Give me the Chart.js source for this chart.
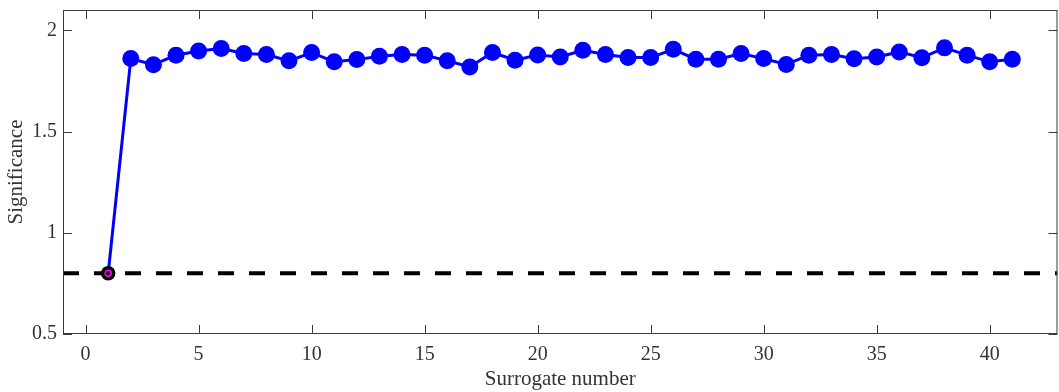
<!DOCTYPE html>
<html>
<head>
<meta charset="utf-8">
<script src="https://cdn.jsdelivr.net/npm/chart.js@4"></script>
<style>
  html, body { margin: 0; padding: 0; background: #fff; }
  #wrap { width: 1059px; height: 392px; overflow: hidden; position: relative; }
  canvas { display: block; }
</style>
</head>
<body>
<div id="wrap"><canvas id="c" width="1066" height="392"></canvas></div>
<script>
// ---- data ----
const surrogateNumbers = [1,2,3,4,5,6,7,8,9,10,11,12,13,14,15,16,17,18,19,20,21,22,23,24,25,26,27,28,29,30,31,32,33,34,35,36,37,38,39,40,41];
const significance = [0.80,1.86,1.83,1.877,1.898,1.91,1.885,1.88,1.849,1.89,1.844,1.855,1.872,1.880,1.877,1.849,1.819,1.890,1.852,1.878,1.868,1.901,1.880,1.865,1.865,1.906,1.857,1.857,1.885,1.860,1.831,1.877,1.880,1.859,1.868,1.893,1.864,1.913,1.877,1.844,1.857];
const thresholdValue = 0.8;
const xTickValues = [0,5,10,15,20,25,30,35,40];
const yTickValues = [0.5,1,1.5,2];
const xLimits = [-1, 43];
const yLimits = [0.5, 2.1];
const xTitle = 'Surrogate number';
const yTitle = 'Significance';

const seriesPoints = surrogateNumbers.map((x, i) => ({x: x, y: significance[i]}));
const originalPoint = [{x: surrogateNumbers[0], y: significance[0]}];
const thresholdLine = [{x: xLimits[0], y: thresholdValue}, {x: xLimits[1], y: thresholdValue}];

Chart.defaults.font.family = '"Liberation Serif", "Times New Roman", serif';
const AXIS_COLOR = '#3a3a3a';
const TEXT_COLOR = '#333333';

const frame = {
  id: 'frame',
  afterDraw(chart) {
    const {ctx, chartArea: a, scales} = chart;
    ctx.save();
    ctx.strokeStyle = AXIS_COLOR;
    ctx.lineWidth = 1;
    ctx.strokeRect(a.left + 0.5, a.top + 0.5, a.right - a.left - 1, a.bottom - a.top - 1);
    const L = 9;
    ctx.beginPath();
    scales.x.ticks.forEach(t => {
      const px = Math.round(scales.x.getPixelForValue(t.value)) + 0.5;
      ctx.moveTo(px, a.bottom); ctx.lineTo(px, a.bottom - L);
      ctx.moveTo(px, a.top); ctx.lineTo(px, a.top + L);
    });
    scales.y.ticks.forEach(t => {
      const py = Math.round(scales.y.getPixelForValue(t.value)) + 0.5;
      ctx.moveTo(a.left, py); ctx.lineTo(a.left + L, py);
      ctx.moveTo(a.right, py); ctx.lineTo(a.right - L, py);
    });
    ctx.stroke();
    ctx.restore();
  }
};

new Chart(document.getElementById('c'), {
  type: 'scatter',
  data: {
    datasets: [
      { // original data (magenta inner ring)
        data: originalPoint, showLine: false,
        pointRadius: 3, pointBorderWidth: 1.6,
        pointBorderColor: '#ff00ff', pointBackgroundColor: '#000000'
      },
      { // original data (black outer disc)
        data: originalPoint, showLine: false,
        pointRadius: 6.5, pointBorderWidth: 1.5,
        pointBorderColor: '#000000', pointBackgroundColor: '#000000'
      },
      { // surrogates
        data: seriesPoints, showLine: true,
        borderColor: '#0000ff', borderWidth: 3,
        pointRadius: seriesPoints.map((p, i) => i === 0 ? 0 : 8.5),
        pointBorderWidth: 0,
        pointBackgroundColor: '#0000ff', pointBorderColor: '#0000ff'
      },
      { // threshold
        data: thresholdLine, showLine: true,
        borderColor: '#000000', borderWidth: 4, borderDash: [16, 15],
        pointRadius: 0
      }
    ]
  },
  options: {
    responsive: false, animation: false, devicePixelRatio: 1,
    layout: { padding: { top: 0, right: 0, left: 0, bottom: 0 } },
    plugins: { legend: { display: false }, tooltip: { enabled: false } },
    scales: {
      x: {
        type: 'linear', min: xLimits[0], max: xLimits[1],
        afterBuildTicks: s => { s.ticks = xTickValues.map(v => ({value: v})); },
        afterFit: s => { s.height = 58; s.paddingLeft = 0; s.paddingRight = 0; },
        grid: { display: false, drawTicks: false },
        border: { display: false },
        ticks: { color: TEXT_COLOR, font: { size: 20 }, padding: 9, maxRotation: 0 },
        title: { display: true, text: xTitle, color: TEXT_COLOR, font: { size: 21 }, padding: { top: 0, bottom: 0 } }
      },
      y: {
        type: 'linear', min: yLimits[0], max: yLimits[1],
        afterBuildTicks: s => { s.ticks = yTickValues.map(v => ({value: v})); },
        afterFit: s => { s.width = 63; s.paddingTop = 10; s.paddingBottom = 0; },
        grid: { display: false, drawTicks: false },
        border: { display: false },
        ticks: { color: TEXT_COLOR, font: { size: 20 }, padding: 6,
                 callback: v => String(v) },
        title: { display: true, text: yTitle, color: TEXT_COLOR, font: { size: 21 }, padding: { top: 4, bottom: 0 } }
      }
    }
  },
  plugins: [frame]
});
</script>
</body>
</html>
